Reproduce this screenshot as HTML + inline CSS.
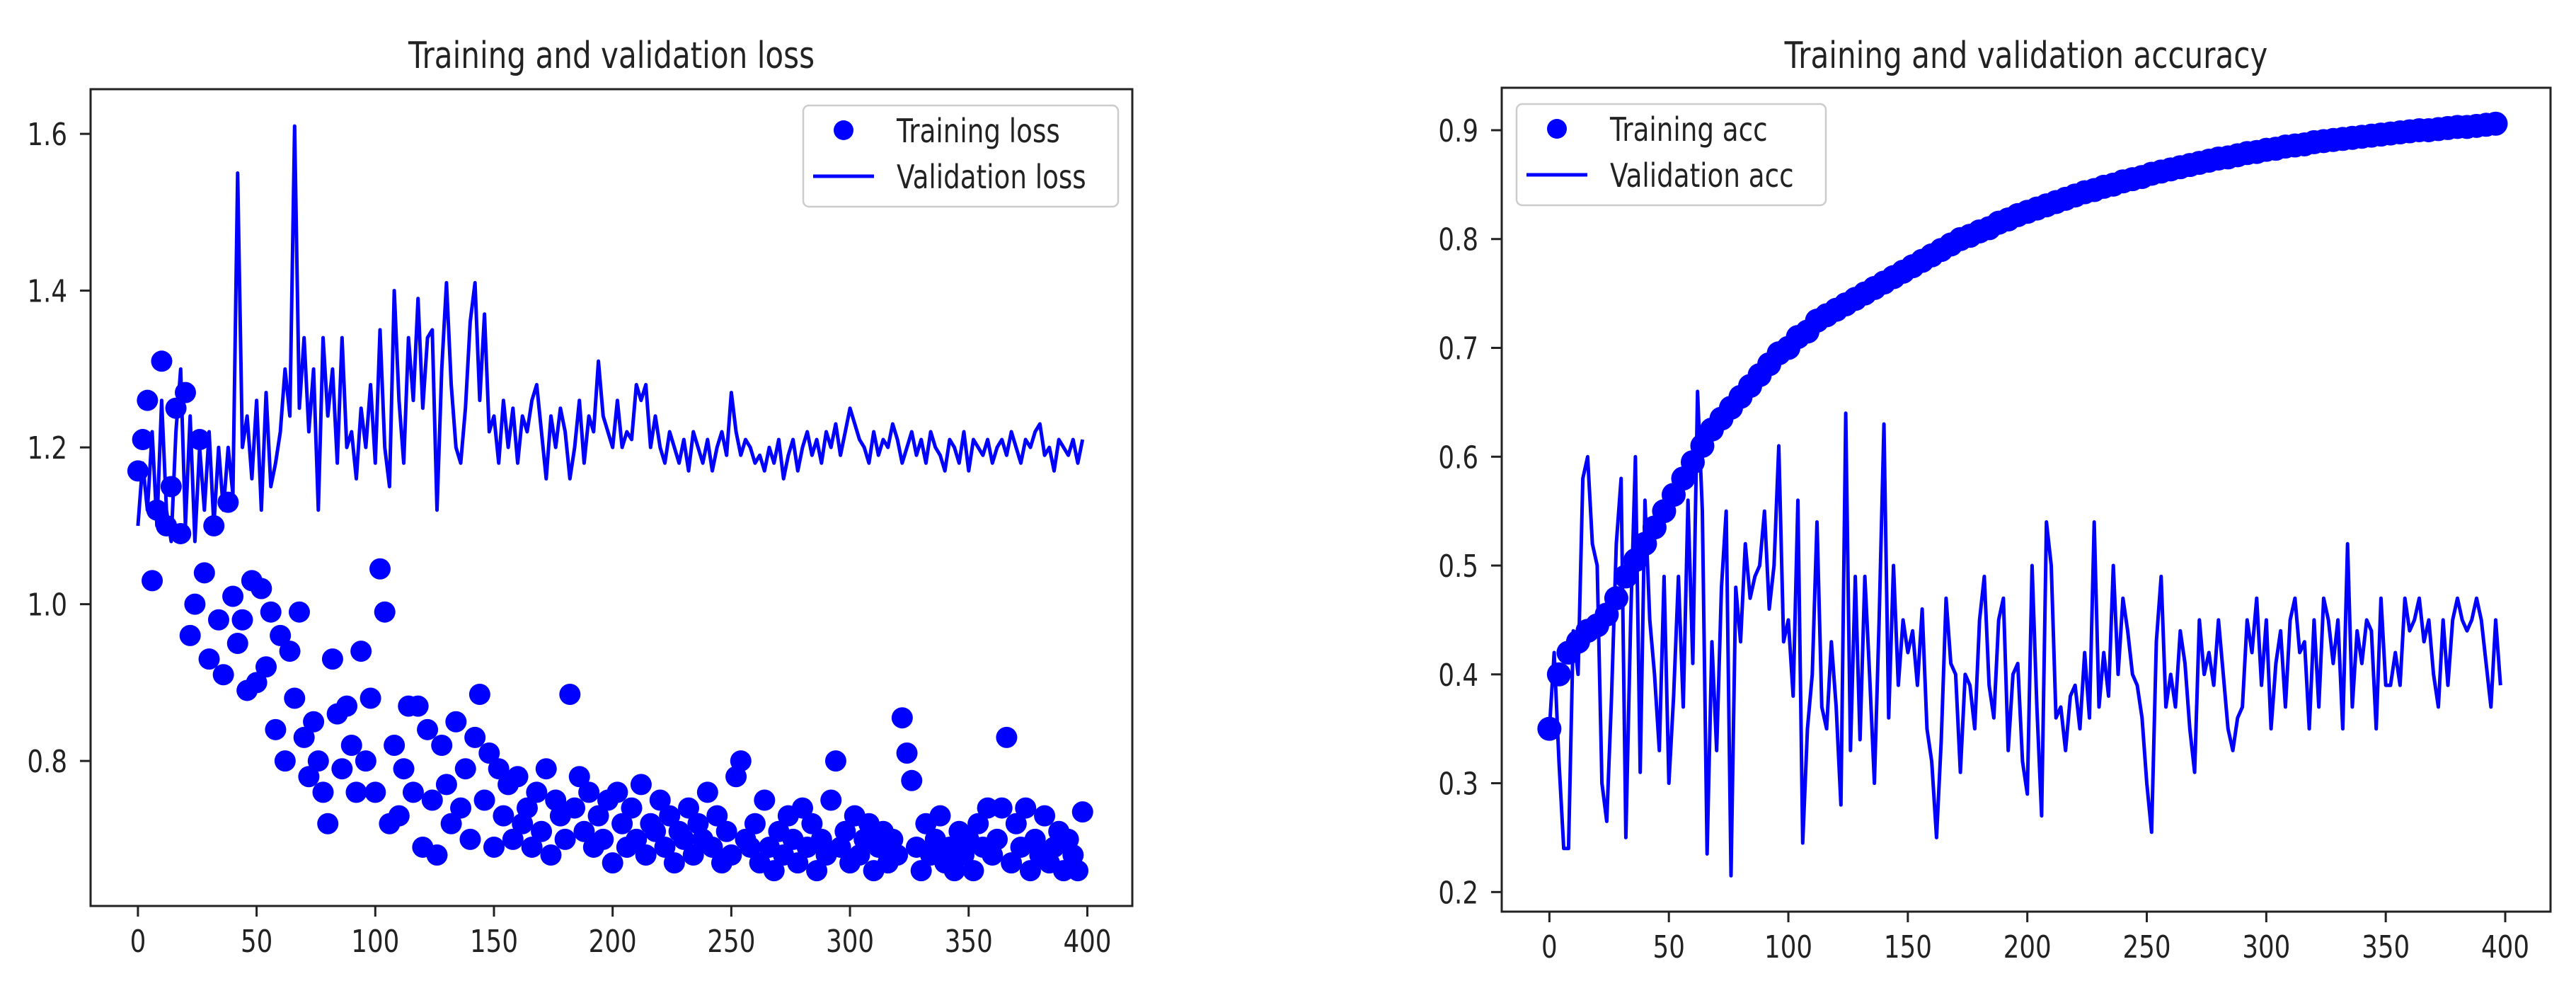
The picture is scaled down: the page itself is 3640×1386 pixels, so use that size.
<!DOCTYPE html>
<html><head><meta charset="utf-8"><style>
html,body{margin:0;padding:0;background:#fff;}
svg{display:block;}
text{font-family:"DejaVu Sans","Liberation Sans",sans-serif;fill:#222;}
</style></head>
<body>
<svg id="fig" width="3640" height="1386" viewBox="0 0 3640 1386" xmlns="http://www.w3.org/2000/svg"></svg>
<script>
// ---- data ----
const xTicks = [0,50,100,150,200,250,300,350,400];
const lossYTicks = [0.8,1.0,1.2,1.4,1.6];
const accYTicks = [0.2,0.3,0.4,0.5,0.6,0.7,0.8,0.9];

const trainLoss = [1.17,1.21,1.26,1.03,1.12,1.31,1.10,1.15,1.25,1.09,1.27,0.96,1.00,1.21,1.04,0.93,1.10,0.98,0.91,1.13,
1.01,0.95,0.98,0.89,1.03,0.90,1.02,0.92,0.99,0.84,0.96,0.80,0.94,0.88,0.99,0.83,0.78,0.85,0.80,0.76,
0.72,0.93,0.86,0.79,0.87,0.82,0.76,0.94,0.80,0.88,0.76,1.045,0.99,0.72,0.82,0.73,0.79,0.87,0.76,0.87,
0.69,0.84,0.75,0.68,0.82,0.77,0.72,0.85,0.74,0.79,0.70,0.83,0.885,0.75,0.81,0.69,0.79,0.73,0.77,0.70,
0.78,0.72,0.74,0.69,0.76,0.71,0.79,0.68,0.75,0.73,0.70,0.885,0.74,0.78,0.71,0.76,0.69,0.73,0.70,0.75,
0.67,0.76,0.72,0.69,0.74,0.70,0.77,0.68,0.72,0.71,0.75,0.69,0.73,0.67,0.71,0.70,0.74,0.68,0.72,0.70,
0.76,0.69,0.73,0.67,0.71,0.68,0.78,0.80,0.70,0.69,0.72,0.67,0.75,0.69,0.66,0.71,0.68,0.73,0.70,0.67,
0.74,0.69,0.72,0.66,0.70,0.68,0.75,0.80,0.69,0.71,0.67,0.73,0.68,0.70,0.72,0.66,0.69,0.71,0.67,0.70,
0.68,0.855,0.81,0.775,0.69,0.66,0.72,0.68,0.70,0.73,0.67,0.69,0.66,0.71,0.68,0.70,0.66,0.72,0.69,0.74,
0.68,0.70,0.74,0.83,0.67,0.72,0.69,0.74,0.66,0.70,0.68,0.73,0.67,0.69,0.71,0.66,0.70,0.68,0.66,0.735];

const valLoss = [1.10,1.18,1.12,1.22,1.10,1.26,1.12,1.08,1.22,1.30,1.10,1.24,1.08,1.20,1.12,1.22,1.10,1.20,1.12,1.20,
1.14,1.55,1.20,1.24,1.16,1.26,1.12,1.27,1.15,1.18,1.22,1.30,1.24,1.61,1.25,1.34,1.22,1.30,1.12,1.34,
1.24,1.30,1.18,1.34,1.20,1.22,1.16,1.25,1.20,1.28,1.18,1.35,1.20,1.15,1.40,1.26,1.18,1.34,1.26,1.39,
1.25,1.34,1.35,1.12,1.30,1.41,1.28,1.20,1.18,1.25,1.36,1.41,1.26,1.37,1.22,1.24,1.18,1.26,1.20,1.25,
1.18,1.24,1.22,1.26,1.28,1.22,1.16,1.24,1.20,1.25,1.22,1.16,1.20,1.26,1.18,1.24,1.22,1.31,1.24,1.22,
1.20,1.26,1.20,1.22,1.21,1.28,1.26,1.28,1.20,1.24,1.20,1.18,1.22,1.20,1.18,1.21,1.17,1.22,1.20,1.18,
1.21,1.17,1.20,1.22,1.19,1.27,1.22,1.19,1.21,1.20,1.18,1.19,1.17,1.20,1.18,1.21,1.16,1.19,1.21,1.17,
1.20,1.22,1.19,1.21,1.18,1.22,1.20,1.23,1.19,1.22,1.25,1.23,1.21,1.20,1.18,1.22,1.19,1.21,1.20,1.23,
1.21,1.18,1.20,1.22,1.19,1.21,1.18,1.22,1.20,1.19,1.17,1.21,1.20,1.18,1.22,1.17,1.21,1.20,1.19,1.21,
1.18,1.20,1.21,1.19,1.22,1.20,1.18,1.21,1.20,1.22,1.23,1.19,1.20,1.17,1.21,1.20,1.19,1.21,1.18,1.21];

const trainAcc = [0.35,0.40,0.42,0.43,0.44,0.445,0.455,0.47,0.49,0.505,0.52,0.535,0.55,0.565,0.58,0.595,0.61,0.625,0.635,0.645,
0.655,0.665,0.675,0.685,0.695,0.70,0.71,0.715,0.725,0.73,0.735,0.74,0.745,0.75,0.755,0.76,0.765,0.77,0.775,0.78,
0.785,0.79,0.795,0.80,0.803,0.807,0.81,0.815,0.818,0.822,0.825,0.828,0.831,0.834,0.837,0.84,0.843,0.845,0.848,0.85,
0.853,0.855,0.857,0.86,0.862,0.864,0.866,0.868,0.87,0.872,0.874,0.875,0.877,0.879,0.88,0.882,0.883,0.885,0.886,0.887,
0.889,0.89,0.891,0.892,0.893,0.894,0.895,0.896,0.897,0.898,0.899,0.90,0.90,0.901,0.902,0.903,0.903,0.904,0.905,0.906];

const valAcc = [0.35,0.42,0.32,0.24,0.24,0.44,0.40,0.58,0.60,0.52,0.50,0.30,0.265,0.38,0.52,0.58,0.25,0.45,0.60,0.31,
0.56,0.45,0.40,0.33,0.49,0.30,0.38,0.49,0.37,0.56,
0.41,0.66,0.55,0.235,0.43,0.33,0.48,0.55,0.215,0.48,
0.43,0.52,0.47,0.49,0.50,0.55,0.46,0.50,0.61,0.43,
0.45,0.38,0.56,0.245,0.35,0.40,0.54,0.37,0.35,0.43,
0.37,0.28,0.64,0.33,0.49,0.34,0.49,0.40,0.30,0.45,
0.63,0.36,0.50,0.39,0.45,0.42,0.44,0.39,0.46,0.35,
0.32,0.25,0.34,0.47,0.41,0.40,0.31,0.40,0.39,0.35,
0.45,0.49,0.39,0.36,0.45,0.47,0.33,0.40,0.41,0.32,
0.29,0.50,0.37,0.27,0.54,0.50,0.36,0.37,0.33,0.38,
0.39,0.35,0.42,0.36,0.54,0.37,0.42,0.38,0.50,0.40,
0.47,0.44,0.40,0.39,0.36,0.30,0.255,0.43,0.49,0.37,
0.40,0.37,0.44,0.41,0.35,0.31,0.45,0.40,0.42,0.39,
0.45,0.40,0.35,0.33,0.36,0.37,0.45,0.42,0.47,0.39,
0.45,0.35,0.41,0.44,0.37,0.45,0.47,0.42,0.43,0.35,
0.45,0.37,0.47,0.45,0.41,0.45,0.35,0.52,0.37,0.44,
0.41,0.45,0.44,0.35,0.47,0.39,0.39,0.42,0.39,0.47,
0.44,0.45,0.47,0.43,0.45,0.40,0.37,0.45,0.39,0.45,
0.47,0.45,0.44,0.45,0.47,0.45,0.41,0.37,0.45,0.39];

const NS = "http://www.w3.org/2000/svg";
const svg = document.getElementById('fig');
function mk(tag, attrs, parent){ const e=document.createElementNS(NS,tag); for(const k in attrs) e.setAttribute(k,attrs[k]); (parent||svg).appendChild(e); return e; }
function txt(str,x,y,size,anchor,parent,name){
  const g=mk('g',{transform:`translate(${x},${y}) scale(0.81,1)`},parent);
  const t=mk('text',{x:0,y:0,'font-size':size,'text-anchor':anchor},g);
  t.textContent=str;
  
  
  return t;
}
function epochOf(i,n){ return i*400/n; }

function chart(cfg){
  const g=mk('g',{});
  
  
  const X0=-19.95, X1=418.95;
  const sx=v=>cfg.L+(v-X0)/(X1-X0)*(cfg.R-cfg.L);
  const sy=v=>cfg.B-(v-cfg.ymin)/(cfg.ymax-cfg.ymin)*(cfg.B-cfg.T);
  const clip='clip-'+cfg.name;
  const cp=mk('clipPath',{id:clip},g); mk('rect',{x:cfg.L,y:cfg.T,width:cfg.R-cfg.L,height:cfg.B-cfg.T},cp);
  const plot=mk('g',{'clip-path':`url(#${clip})`},g);
  const sc=mk('g',{fill:'#0000ff'},plot);
  
  
  cfg.scatter.forEach((v,i)=>{
    const c=mk('circle',{cx:sx(epochOf(i,cfg.scatter.length)),cy:sy(v),r:cfg.dotR},sc);
    
    
  });
  const pts=cfg.line.map((v,i)=>sx(epochOf(i,cfg.line.length)).toFixed(1)+','+sy(v).toFixed(1)).join(' ');
  const pl=mk('polyline',{points:pts,fill:'none',stroke:'#0000ff','stroke-width':5,'stroke-linejoin':'round'},plot);
  
  
  const fr=mk('rect',{x:cfg.L,y:cfg.T,width:cfg.R-cfg.L,height:cfg.B-cfg.T,fill:'none',stroke:'#222','stroke-width':3},g);
  
  
  xTicks.forEach(t=>{
    const x=sx(t);
    mk('line',{x1:x,x2:x,y1:cfg.B,y2:cfg.B+15,stroke:'#222','stroke-width':3},g);
    txt(String(t),x,cfg.B+65,44,'middle',g,'x-tick-label');
  });
  cfg.yticks.forEach(t=>{
    const y=sy(t);
    mk('line',{x1:cfg.L-15,x2:cfg.L,y1:y,y2:y,stroke:'#222','stroke-width':3},g);
    txt(t.toFixed(1),cfg.L-33,y+16,44,'end',g,'y-tick-label');
  });
  txt(cfg.title,(cfg.L+cfg.R)/2,96,52,'middle',g,'chart-title');
  const lg=mk('g',{},g);
  
  
  const Lx=cfg.legX, Ly=cfg.legY;
  mk('rect',{x:Lx,y:Ly,width:cfg.legW,height:143,rx:8,fill:'#fff','fill-opacity':0.85,stroke:'#ccc','stroke-width':2.5},lg);
  mk('circle',{cx:Lx+57,cy:Ly+35,r:14,fill:'#0000ff'},lg);
  mk('line',{x1:Lx+14,x2:Lx+100,y1:Ly+100,y2:Ly+100,stroke:'#0000ff','stroke-width':5},lg);
  txt(cfg.leg1,Lx+132,Ly+52,46,'start',lg,'legend-entry-training');
  txt(cfg.leg2,Lx+132,Ly+117,46,'start',lg,'legend-entry-validation');
}

chart({name:'loss-chart',L:128,R:1600,T:126,B:1280,ymin:0.615,ymax:1.657,yticks:lossYTicks,dotR:15,
  scatter:trainLoss,line:valLoss,scatterName:'training-loss-points',lineName:'validation-loss-line',
  title:'Training and validation loss',legX:1135,legY:149,legW:445,leg1:'Training loss',leg2:'Validation loss'});
chart({name:'accuracy-chart',L:2122,R:3604,T:124,B:1288,ymin:0.182,ymax:0.939,yticks:accYTicks,dotR:17,
  scatter:trainAcc,line:valAcc,scatterName:'training-acc-points',lineName:'validation-acc-line',
  title:'Training and validation accuracy',legX:2143,legY:147,legW:437,leg1:'Training acc',leg2:'Validation acc'});
</script>
</body></html>
